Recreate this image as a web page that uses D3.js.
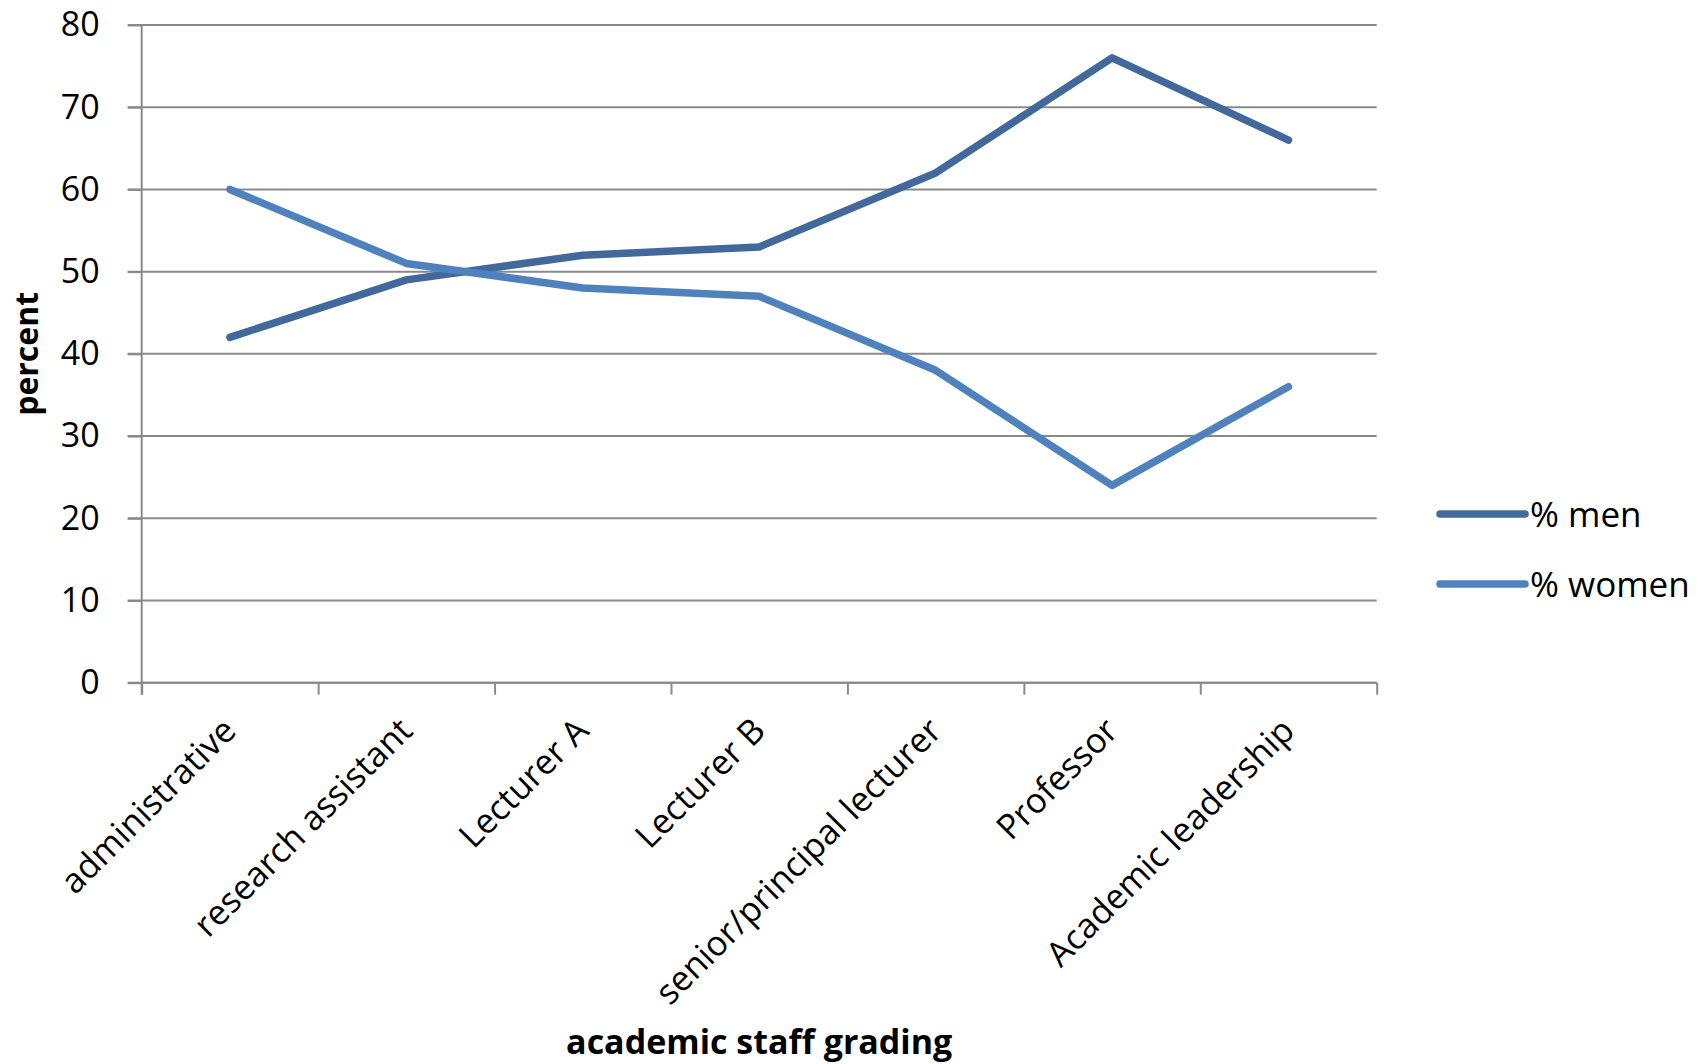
<!DOCTYPE html>
<html>
<head>
<meta charset="utf-8">
<script src="https://cdn.jsdelivr.net/npm/d3@7"></script>
<style>
  html, body { margin: 0; padding: 0; background: #fff; }
  svg text { font-family: "Open Sans", "DejaVu Sans", sans-serif; fill: #000; }
</style>
</head>
<body>
<svg id="chart" width="1698" height="1064"></svg>
<script>
// Share of men and women by academic staff grade (percent)
const categories = [
  "administrative",
  "research assistant",
  "Lecturer A",
  "Lecturer B",
  "senior/principal lecturer",
  "Professor",
  "Academic leadership"
];
const menValues   = [42, 49, 52, 53, 62, 76, 66];
const womenValues = [60, 51, 48, 47, 38, 24, 36];
const yTicks = [0, 10, 20, 30, 40, 50, 60, 70, 80];
const seriesNames = ["% men", "% women"];
const seriesColors = ["#41699b", "#4f81bd"];

const svg = d3.select("#chart");
const plot = { left: 141.7, right: 1376.7, top: 25, bottom: 682.7 };

const x = d3.scaleBand().domain(categories).range([plot.left, plot.right]).padding(0);
const y = d3.scaleLinear().domain([0, 80]).range([plot.bottom, plot.top]);
const xBoundary = d3.scaleLinear().domain([0, categories.length]).range([plot.left, plot.right]);

const gridColor = "#8a8a8a";

// horizontal gridlines
svg.append("g")
  .selectAll("line")
  .data(yTicks)
  .join("line")
  .attr("x1", plot.left - 14)
  .attr("x2", plot.right)
  .attr("y1", d => y(d))
  .attr("y2", d => y(d))
  .attr("stroke", gridColor)
  .attr("stroke-width", 2);

// y axis
const yAxis = svg.append("g")
  .attr("transform", `translate(${plot.left},0)`)
  .call(d3.axisLeft(y).tickValues(yTicks).tickSize(14).tickPadding(28));
yAxis.select(".domain").remove();
yAxis.selectAll(".tick line").attr("stroke", gridColor).attr("stroke-width", 2);
yAxis.selectAll(".tick text").attr("font-size", 34).attr("font-family", "Open Sans");
svg.append("line")
  .attr("x1", plot.left).attr("x2", plot.left)
  .attr("y1", plot.top).attr("y2", plot.bottom + 12)
  .attr("stroke", gridColor).attr("stroke-width", 2);

// x axis with ticks between categories
const xAxis = svg.append("g")
  .attr("transform", `translate(0,${plot.bottom})`)
  .call(d3.axisBottom(xBoundary)
    .tickValues(d3.range(categories.length + 1))
    .tickSize(12)
    .tickFormat(""));
xAxis.select(".domain").attr("stroke", gridColor).attr("stroke-width", 2)
  .attr("d", `M${plot.left},0H${plot.right}`);
xAxis.selectAll(".tick line").attr("stroke", gridColor).attr("stroke-width", 2);

// category labels, rotated
svg.append("g")
  .selectAll("text")
  .data(categories)
  .join("text")
  .attr("transform", d => `translate(${x(d) + x.bandwidth() / 2 + 8},${plot.bottom + 50}) rotate(-45)`)
  .attr("text-anchor", "end")
  .attr("font-size", 34.5)
  .text(d => d);

// series lines
const series = [menValues, womenValues];
const line = d3.line()
  .x((d, i) => x(categories[i]) + x.bandwidth() / 2)
  .y(d => y(d));

svg.append("g")
  .selectAll("path")
  .data(series)
  .join("path")
  .attr("d", d => line(d))
  .attr("fill", "none")
  .attr("stroke", (d, i) => seriesColors[i])
  .attr("stroke-width", 7.5)
  .attr("stroke-linecap", "round")
  .attr("stroke-linejoin", "round");

// axis titles
svg.append("text")
  .attr("x", (plot.left + plot.right) / 2)
  .attr("y", 1054)
  .attr("text-anchor", "middle")
  .attr("font-size", 34)
  .attr("font-weight", "bold")
  .text("academic staff grading");

svg.append("text")
  .attr("transform", `translate(38,${(plot.top + plot.bottom) / 2}) rotate(-90)`)
  .attr("text-anchor", "middle")
  .attr("font-size", 32)
  .attr("font-weight", "bold")
  .text("percent");

// legend
const legend = svg.append("g")
  .selectAll("g")
  .data(seriesNames)
  .join("g")
  .attr("transform", (d, i) => `translate(1440,${514 + i * 70})`);
legend.append("line")
  .attr("x1", 0).attr("x2", 85)
  .attr("stroke", (d, i) => seriesColors[i])
  .attr("stroke-width", 7.5)
  .attr("stroke-linecap", "round");
legend.append("text")
  .attr("x", 90)
  .attr("dy", "0.36em")
  .attr("font-size", 35)
  .text(d => d);
</script>
</body>
</html>
